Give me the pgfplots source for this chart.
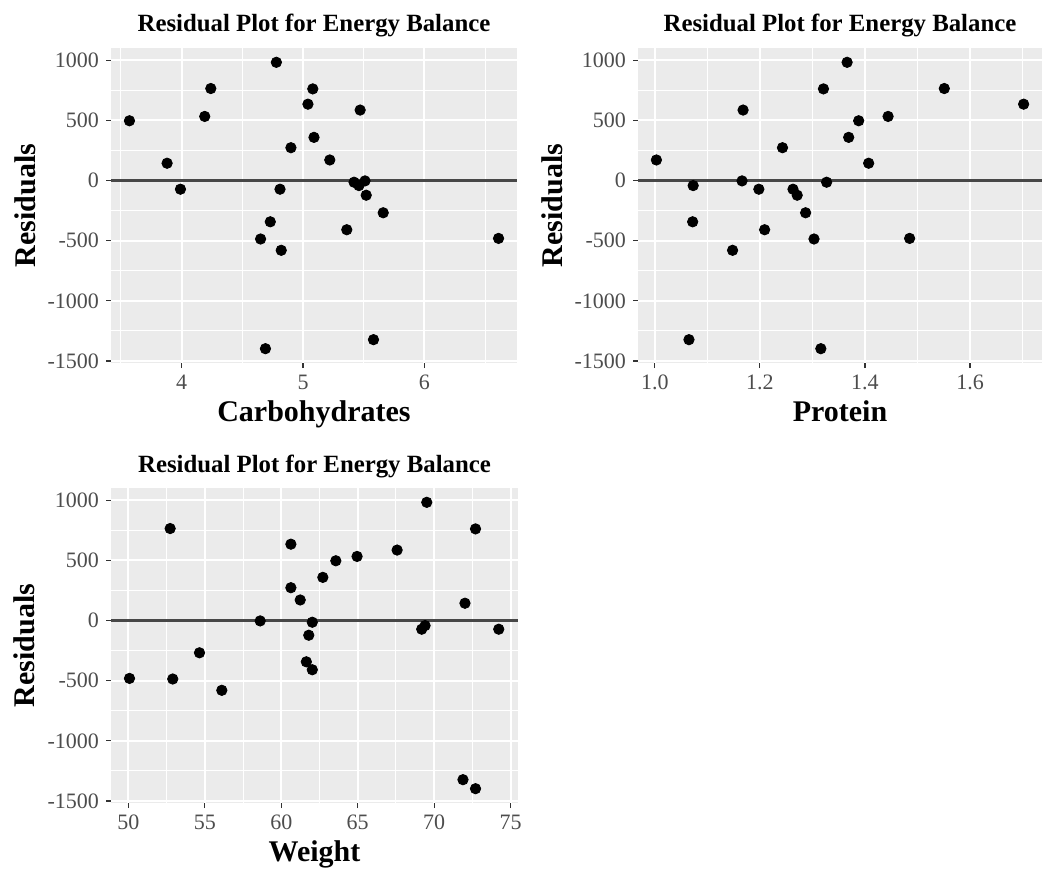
\documentclass[border=0pt]{standalone}
\usepackage{fontspec}
\setmainfont{Liberation Serif}
\usepackage{pgfplots}
\pgfplotsset{compat=1.18}
\definecolor{panelbg}{HTML}{EBEBEB}
\definecolor{ticktext}{HTML}{4D4D4D}
\definecolor{tickmark}{HTML}{333333}
\definecolor{zeroline}{HTML}{474747}

\pgfplotsset{gg/.style={
  scale only axis,
  height=157.5pt,
  axis background/.style={fill=panelbg},
  axis line style={draw=none},
  grid=both,
  major grid style={white, line width=1pt},
  minor grid style={white, line width=0.5pt},
  minor tick length=0pt,
  major tick length=2.5pt,
  tick align=outside,
  xtick pos=bottom, ytick pos=left,
  tick style={tickmark, line width=0.6pt},
  ymin=-1517, ymax=1102,
  ytick={-1500,-1000,-500,0,500,1000},
  minor ytick={-1250,-750,-250,250,750},
  scaled ticks=false,
  /pgf/number format/assume math mode=true,
  /pgf/number format/1000 sep={},
  ticklabel style={text=ticktext, font=\fontsize{11}{13}\selectfont},
  title style={font=\bfseries\fontsize{12.4}{14}\selectfont, at={(axis description cs:0.5,1)}, anchor=base, yshift=2pt},
  xlabel style={font=\bfseries\fontsize{15}{17}\selectfont, at={(axis description cs:0.5,0)}, anchor=base, yshift=-29pt},
  ylabel style={font=\bfseries\fontsize{15}{17}\selectfont, at={(axis description cs:-0.187,0.5)}, anchor=base},
  ylabel=Residuals,
  title=Residual Plot for Energy Balance,
}}
\pgfplotsset{pts/.style={only marks, mark=*, mark size=2.6pt, black, mark options={fill=black, draw=black}}}
\pgfplotsset{zl/.style={zeroline, line width=1.4pt, no marks}}

\begin{document}
\begin{tikzpicture}
\path[use as bounding box] (0,0) rectangle (523.5pt,-435.5pt);

% Panel 1: Carbohydrates
\begin{axis}[gg, at={(55.5pt,-24pt)}, anchor=north west, width=203pt,
  xmin=3.418, xmax=6.762, xtick={4,5,6}, minor xtick={3.5,4.5,5.5,6.5},
  xlabel=Carbohydrates]
\addplot[zl] coordinates {(3.418,0) (6.762,0)};
\addplot[pts] coordinates {
(3.57,497) (3.88,144) (3.99,-72) (4.19,533) (4.24,765)
(4.78,983) (4.65,-486) (4.73,-343) (4.81,-72) (4.82,-580)
(4.69,-1398) (4.90,273) (5.04,635) (5.08,762) (5.09,359)
(5.22,171) (5.36,-409) (5.42,-14) (5.46,-42) (5.51,-3)
(5.52,-122) (5.47,586) (5.66,-268) (5.58,-1323) (6.61,-481)};
\end{axis}

% Panel 2: Protein
\begin{axis}[gg, at={(319pt,-24pt)}, anchor=north west, width=202pt,
  xmin=0.968, xmax=1.737, xtick={1.0,1.2,1.4,1.6}, minor xtick={1.1,1.3,1.5,1.7},
  xticklabel={\pgfmathprintnumber[fixed, fixed zerofill, precision=1]{\tick}},
  xlabel=Protein]
\addplot[zl] coordinates {(0.968,0) (1.737,0)};
\addplot[pts] coordinates {
(1.003,171) (1.073,-42) (1.072,-343) (1.065,-1323) (1.166,-3)
(1.168,586) (1.148,-580) (1.198,-72) (1.209,-409) (1.243,273)
(1.263,-72) (1.271,-122) (1.287,-268) (1.303,-486) (1.316,-1398)
(1.321,762) (1.327,-14) (1.366,983) (1.369,359) (1.388,497)
(1.407,144) (1.444,533) (1.485,-481) (1.551,765) (1.702,635)};
\end{axis}

% Panel 3: Weight
\begin{axis}[gg, at={(55.5pt,-244pt)}, anchor=north west, width=203.5pt,
  xmin=48.86, xmax=75.49, xtick={50,55,60,65,70,75}, minor xtick={52.5,57.5,62.5,67.5,72.5},
  xlabel=Weight]
\addplot[zl] coordinates {(48.86,0) (75.49,0)};
\addplot[pts] coordinates {
(50.07,-481) (52.73,765) (52.90,-486) (54.65,-268) (56.11,-580)
(58.62,-3) (60.63,635) (60.63,273) (61.24,171) (61.64,-343)
(61.80,-122) (62.03,-409) (62.03,-14) (62.72,359) (63.57,497)
(64.96,533) (67.58,586) (69.19,-72) (69.41,-42) (69.52,983)
(72.02,144) (71.89,-1323) (72.71,762) (72.71,-1398) (74.23,-72)};
\end{axis}
\end{tikzpicture}
\end{document}
